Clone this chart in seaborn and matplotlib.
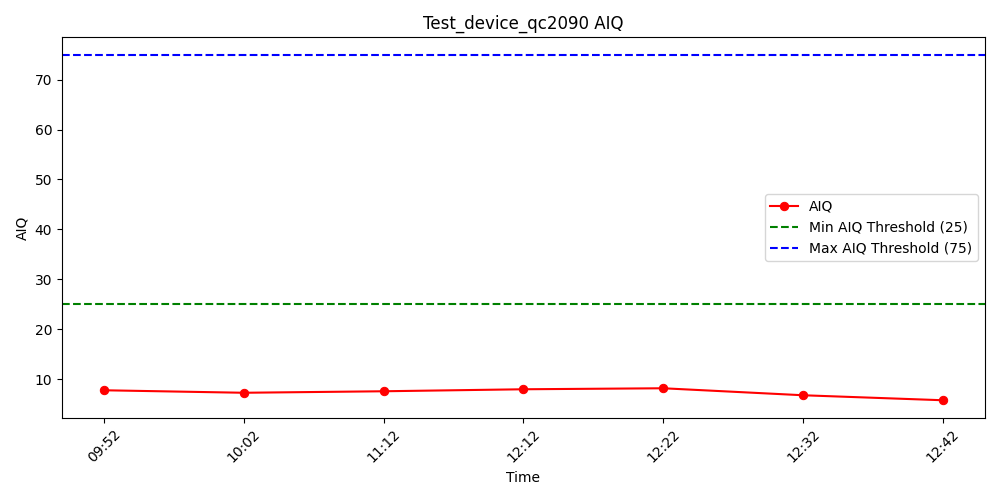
import matplotlib
matplotlib.use('Agg')
import matplotlib.pyplot as plt
import seaborn as sns
import pandas as pd

times = ['09:52', '10:02', '11:12', '12:12', '12:22', '12:32', '12:42']
aiq = [7.8, 7.3, 7.6, 8.0, 8.2, 6.8, 5.8]
min_thr = 25
max_thr = 75

df = pd.DataFrame({'Time': times, 'AIQ': aiq})

fig, ax = plt.subplots(figsize=(10, 5), dpi=100)
sns.lineplot(data=df, x='Time', y='AIQ', color='red', marker='o',
             markersize=6, markeredgecolor='red', label='AIQ', ax=ax, sort=False)
ax.axhline(min_thr, color='green', linestyle='--', label=f'Min AIQ Threshold ({min_thr})')
ax.axhline(max_thr, color='blue', linestyle='--', label=f'Max AIQ Threshold ({max_thr})')
ax.set_title('Test_device_qc2090 AIQ')
ax.set_xlabel('Time')
ax.set_ylabel('AIQ')
plt.xticks(rotation=45)
ax.legend(loc='center right')
plt.tight_layout()
plt.savefig('out.png')
